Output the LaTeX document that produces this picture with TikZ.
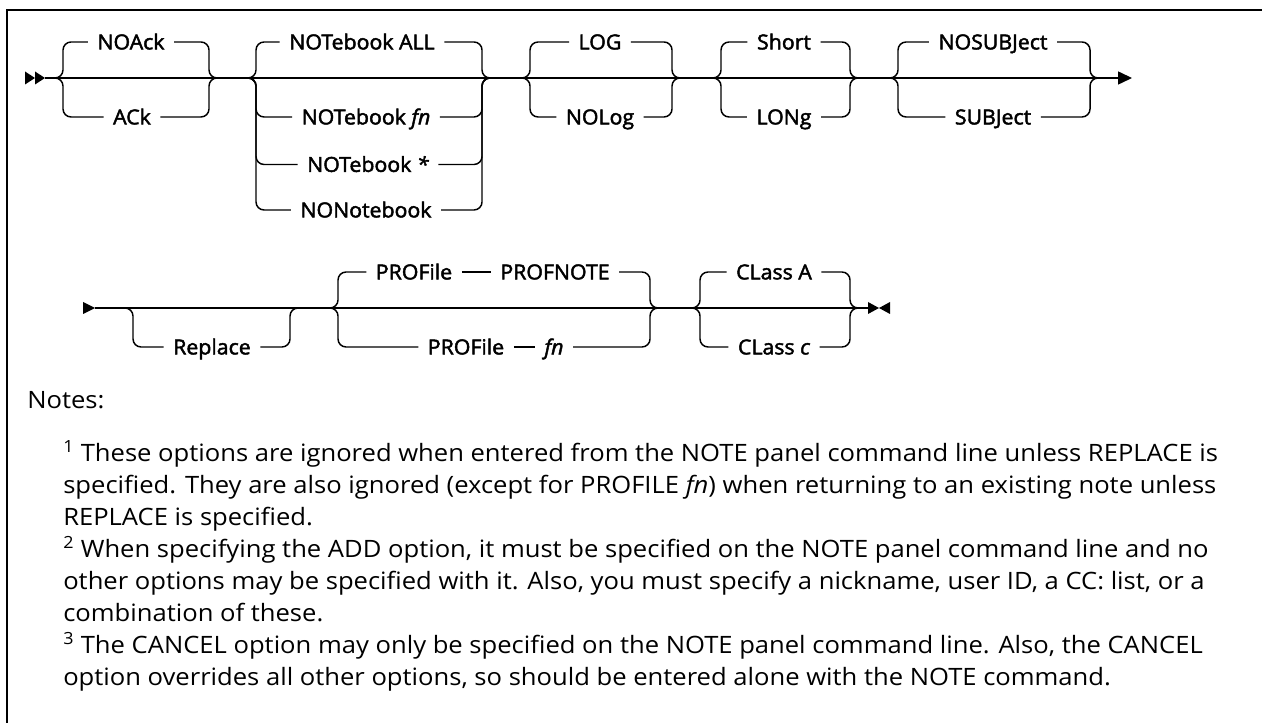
\documentclass[tikz,border=0pt]{standalone}
\usepackage{fontspec}
\usetikzlibrary{arrows.meta}
\newfontfamily\labfont{Open Sans}[FakeStretch=1.03,FakeBold=2.2]
\newfontfamily\notfont{Open Sans}[FakeStretch=1.07]
\newlength\mylen
\begin{document}
\settowidth\mylen{\labfont\fontsize{10pt}{12pt}\selectfont NOTebook ALL}%
\pgfmathsetmacro\labsize{10*109/\mylen}%
\pgfmathsetmacro\labcap{0.714*\labsize}%
\settowidth\mylen{\notfont\fontsize{10pt}{12pt}\selectfont \textsuperscript{3} The CANCEL option may only be specified on the NOTE panel command line. Also, the CANCEL}%
\pgfmathsetmacro\notsize{10*855/\mylen}%
\begin{tikzpicture}[x=0.75pt,y=-0.75pt,
  wire/.style={line width=1.1pt, rounded corners=6pt},
  lab/.style={font=\labfont\fontsize{\labsize pt}{\labsize pt}\selectfont, inner xsep=7pt, inner ysep=0pt, text height=\labcap pt, text depth=0pt},
  note/.style={font=\notfont\fontsize{\notsize pt}{\notsize pt}\selectfont, inner sep=0pt, anchor=base west}]
\useasboundingbox (0,0) rectangle (1262,723);
% frame
\coordinate (f1) at (7,723);
\coordinate (f2) at (7,10);
\coordinate (f3) at (1262,10);
\draw[line width=1.5pt] (f1) -- (f2) -- (f3);

% ---------- row 1 ----------
\coordinate (s1) at (45,78);
\coordinate (e1) at (1132,78);
\draw[line width=1.1pt, -{Triangle[length=10.5pt,width=9.75pt]}] (s1) -- (e1);
\fill (s1) -- ++(-10,-6.5) -- ++(0,13) -- cycle;
\fill ([xshift=-7.5pt]s1) -- ++(-10,-6.5) -- ++(0,13) -- cycle;

\coordinate (j1a) at (55,78);  \coordinate (j1b) at (217,78);
\coordinate (j2a) at (248,78); \coordinate (j2b) at (490,78);
\coordinate (j3a) at (522,78); \coordinate (j3b) at (680,78);
\coordinate (j4a) at (713,78); \coordinate (j4b) at (858,78);
\coordinate (j5a) at (890,78); \coordinate (j5b) at (1098,78);

\node[lab] (noack) at (131,42) {NOAck};
\node[lab] (ack) at (132,117) {ACk};
\node[lab] (nball) at (362,42) {NOTebook ALL};
\node[lab] (nbfn) at (366,117) {NOTebook \textit{fn}};
\node[lab] (nbst) at (368,164.5) {NOTebook \textit{*}};
\node[lab] (nonb) at (366,210) {NONotebook};
\node[lab] (log) at (600,42) {LOG};
\node[lab] (nolog) at (600,117) {NOLog};
\node[lab] (short) at (784,42) {Short};
\node[lab] (long) at (784,117) {LONg};
\node[lab] (nosubj) at (993,42) {NOSUBJect};
\node[lab] (subj) at (993,117) {SUBJect};

\foreach \a/\b/\n in {j1a/j1b/noack, j1a/j1b/ack, j2a/j2b/nball, j2a/j2b/nbfn, j2a/j2b/nbst, j2a/j2b/nonb, j3a/j3b/log, j3a/j3b/nolog, j4a/j4b/short, j4a/j4b/long, j5a/j5b/nosubj, j5a/j5b/subj}{
  \draw[wire] (\a) -- ++(8,0) |- (\n.west);
  \draw[wire] (\b) -- ++(-8,0) |- (\n.east);
}

% ---------- row 2 ----------
\coordinate (s2) at (95,308);
\coordinate (e2) at (868,308);
\draw[line width=1.1pt] (s2) -- (e2);
\fill (s2) -- ++(-12,-6) -- ++(0,12) -- cycle;
\fill (e2) -- ++(0,-6) -- ++(11,6) -- ++(-11,6) -- cycle;
\fill ([xshift=8.25pt]e2) -- ++(11,-6) -- ++(0,12) -- cycle;

\coordinate (r1a) at (125,308); \coordinate (r1b) at (298,308);
\coordinate (r2a) at (330,308); \coordinate (r2b) at (658,308);
\coordinate (r3a) at (692,308); \coordinate (r3b) at (858,308);

\node[lab] (repl) at (212,347) {Replace};
\node[lab] (pa) at (414,272) {PROFile};
\node[lab] (pn) at (555,272) {PROFNOTE};
\node[lab] (pb) at (466,347) {PROFile};
\node[lab] (pfn) at (554,347) {\textit{fn}};
\node[lab] (ca) at (774,272) {CLass A};
\node[lab] (cc) at (774,347) {CLass \textit{c}};

\draw[wire] (r1a) -- ++(8,0) |- (repl.west);
\draw[wire] (r1b) -- ++(-8,0) |- (repl.east);
\draw[wire] (r2a) -- ++(8,0) |- (pa.west);
\draw[wire] (pa.east) -- (pn.west);
\draw[wire] (r2b) -- ++(-8,0) |- (pn.east);
\draw[wire] (r2a) -- ++(8,0) |- (pb.west);
\draw[wire] (pb.east) -- (pfn.west);
\draw[wire] (r2b) -- ++(-8,0) |- (pfn.east);
\draw[wire] (r3a) -- ++(8,0) |- (ca.west);
\draw[wire] (r3b) -- ++(-8,0) |- (ca.east);
\draw[wire] (r3a) -- ++(8,0) |- (cc.west);
\draw[wire] (r3b) -- ++(-8,0) |- (cc.east);

% ---------- notes ----------
\node[note] (nh) at (27,408) {Notes:};
\node[note] (n1) at (63,461) {\textsuperscript{1} These options are ignored when entered from the NOTE panel command line unless REPLACE is};
\node[note] (n2) at (63,493) {specified. They are also ignored (except for PROFILE \textit{fn}) when returning to an existing note unless};
\node[note] (n3) at (63,525) {REPLACE is specified.};
\node[note] (n4) at (63,557) {\textsuperscript{2} When specifying the ADD option, it must be specified on the NOTE panel command line and no};
\node[note] (n5) at (63,589) {other options may be specified with it. Also, you must specify a nickname, user ID, a CC: list, or a};
\node[note] (n6) at (63,621) {combination of these.};
\node[note] (n7) at (63,653) {\textsuperscript{3} The CANCEL option may only be specified on the NOTE panel command line. Also, the CANCEL};
\node[note] (n8) at (63,685) {option overrides all other options, so should be entered alone with the NOTE command.};
\end{tikzpicture}
\end{document}
